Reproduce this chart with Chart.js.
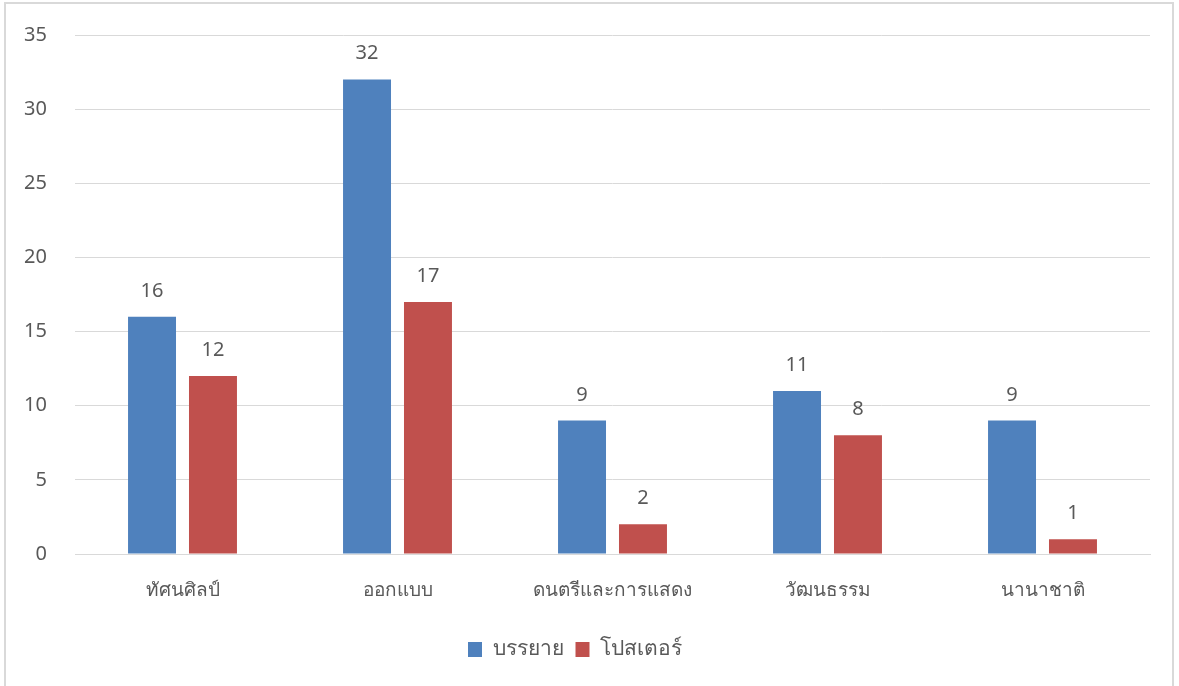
<!DOCTYPE html>
<html>
<head>
<meta charset="utf-8">
<script src="https://cdn.jsdelivr.net/npm/chart.js@4.4.1/dist/chart.umd.min.js"></script>
<style>
    html, body { margin: 0; padding: 0; background: #fff; }
    .frame { position: absolute; left: 4px; top: 2px; width: 1170px; height: 700px; border: 2px solid #d9d9d9; box-sizing: border-box; }
    .wrap { position: absolute; left: 0; top: 0; width: 1179px; height: 686px; }
</style>
</head>
<body>
<div class="frame"></div>
<div class="wrap"><canvas id="chart" width="1179" height="686"></canvas></div>
<script>
/* DATA */
const kategori     = ['ทัศนศิลป์', 'ออกแบบ', 'ดนตรีและการแสดง', 'วัฒนธรรม', 'นานาชาติ'];
const nilaiBrrayai = [16, 32, 9, 11, 9];
const nilaiPoster  = [12, 17, 2, 8, 1];
const namaSeri     = ['บรรยาย', 'โปสเตอร์'];
const yTicks       = [0, 5, 10, 15, 20, 25, 30, 35];

const FONT = 'Tahoma, "Noto Sans", "DejaVu Sans", sans-serif';
const TEXT = '#595959';

/* label angka di atas batang */
const valueLabels = {
    id: 'valueLabels',
    afterDatasetsDraw(chart) {
        const ctx = chart.ctx;
        ctx.save();
        ctx.font = '20px ' + FONT;
        ctx.fillStyle = TEXT;
        ctx.textAlign = 'center';
        ctx.textBaseline = 'alphabetic';
        chart.data.datasets.forEach((ds, i) => {
            chart.getDatasetMeta(i).data.forEach((bar, j) => {
                ctx.fillText(ds.data[j], bar.x, bar.y - 20);
            });
        });
        ctx.restore();
    }
};

new Chart(document.getElementById('chart'), {
    type: 'bar',
    data: {
        labels: kategori,
        datasets: [
            {label: namaSeri[0], data: nilaiBrrayai, backgroundColor: '#4F81BD', borderWidth: 0},
            {label: namaSeri[1], data: nilaiPoster,  backgroundColor: '#C0504D', borderWidth: 0}
        ]
    },
    options: {
        responsive: false, animation: false,
        categoryPercentage: 0.567, barPercentage: 0.787,
        layout: {padding: {top: 35, right: 29, bottom: 16, left: 0}},
        plugins: {
            legend: {
                position: 'bottom',
                labels: {font: {family: FONT, size: 21}, color: TEXT, boxWidth: 14, boxHeight: 15, padding: 12}
            },
            tooltip: {enabled: false}
        },
        scales: {
            x: {
                grid: {display: false, drawTicks: false},
                border: {display: true, color: '#d9d9d9', width: 1},
                ticks: {font: {family: FONT, size: 19}, color: TEXT, padding: 25},
                afterFit(s) { s.height = 73; }
            },
            y: {
                min: 0, max: 35,
                afterBuildTicks(s) { s.ticks = yTicks.map(v => ({value: v})); },
                grid: {color: '#d9d9d9', drawTicks: false},
                border: {display: false},
                ticks: {font: {family: FONT, size: 20}, color: TEXT, padding: 28},
                afterFit(s) { s.width = 75; s.paddingTop = 0; s.paddingBottom = 0; }
            }
        }
    },
    plugins: [valueLabels]
});
</script>
</body>
</html>
